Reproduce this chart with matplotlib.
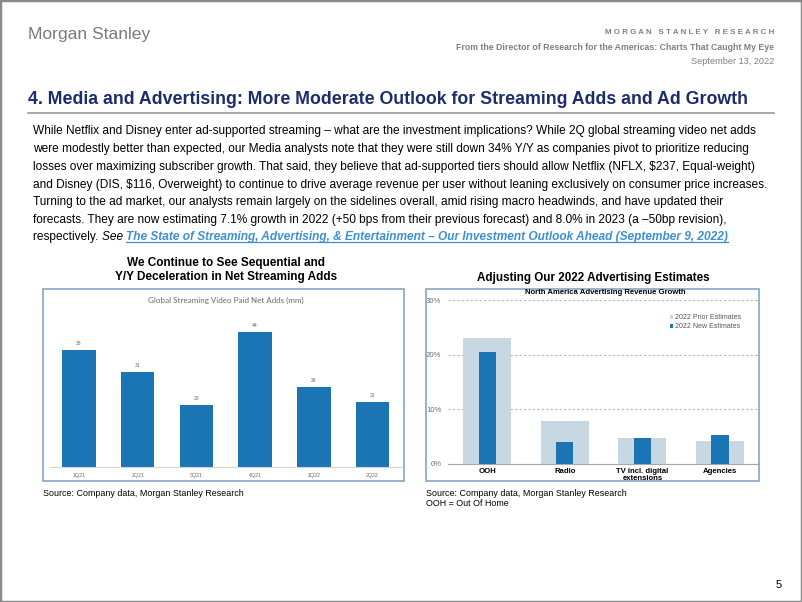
import matplotlib
matplotlib.use("Agg")
import matplotlib.pyplot as plt
from matplotlib.patches import Rectangle
from matplotlib.lines import Line2D

# ---- data ----
quarters = ['1Q21', '2Q21', '3Q21', '4Q21', '1Q22', '2Q22']
net_adds = [38, 31, 20, 44, 26, 21]

ad_categories = ['OOH', 'Radio', 'TV incl. digital\nextensions', 'Agencies']
prior_est = [23.0, 7.9, 4.8, 4.1]
new_est = [20.5, 3.9, 4.7, 5.2]
pct_ticks = [0, 10, 20, 30]

para_lines = [
    "While Netflix and Disney enter ad-supported streaming \u2013 what are the investment implications? While 2Q global streaming video net adds",
    "were modestly better than expected, our Media analysts note that they were still down 34% Y/Y as companies pivot to prioritize reducing",
    "losses over maximizing subscriber growth. That said, they believe that ad-supported tiers should allow Netflix (NFLX, $237, Equal-weight)",
    "and Disney (DIS, $116, Overweight) to continue to drive average revenue per user without leaning exclusively on consumer price increases.",
    "Turning to the ad market, our analysts remain largely on the sidelines overall, amid rising macro headwinds, and have updated their",
    "forecasts. They are now estimating 7.1% growth in 2022 (+50 bps from their previous forecast) and 8.0% in 2023 (a \u201350bp revision),",
]
last_plain = "respectively. "
last_see = "See "
link_text = ("The State of Streaming, Advertising, & Entertainment \u2013 "
             "Our Investment Outlook Ahead (September 9, 2022)")

BLUE = '#1b75b4'
LIGHT = '#c8d8e3'
NAVY = '#1c2c6c'
BOX = '#8eaccc'
PARA_FS = 8.55

plt.rcParams['font.family'] = ['Liberation Sans', 'DejaVu Sans']

W, H = 802, 602
fig = plt.figure(figsize=(W / 100, H / 100), dpi=100)


def fx(x):
    return x / W


def fy(y):
    return 1 - y / H


def rect(x0, y0, x1, y1):
    return [fx(x0), fy(y1), (x1 - x0) / W, (y1 - y0) / H]


# slide frame
fig.patches.append(Rectangle((0, 0), 1, 1, transform=fig.transFigure,
                             fill=False, ec='#8a8a8a', lw=2.5))

# header
fig.text(fx(28), fy(34), 'Morgan Stanley', fontsize=12.6, color='#7a7a7a',
         va='center', ha='left')
fig.text(fx(774), fy(32), 'M O R G A N   S T A N L E Y   R E S E A R C H',
         fontsize=5.7, color='#808080', fontweight='bold', va='center', ha='right')
fig.text(fx(774), fy(47),
         'From the Director of Research for the Americas: Charts That Caught My Eye',
         fontsize=6.35, color='#808080', fontweight='bold', va='center', ha='right')
fig.text(fx(774), fy(61), 'September 13, 2022', fontsize=6.6, color='#808080',
         va='center', ha='right')

fig.text(fx(28), fy(100),
         '4. Media and Advertising: More Moderate Outlook for Streaming Adds and Ad Growth',
         fontsize=12.8, color=NAVY, fontweight='bold', va='center', ha='left')
fig.add_artist(Line2D([fx(28), fx(774)], [fy(113), fy(113)], color='#9a9a9a', lw=1.2))

# paragraph
line_y = [134, 152, 170, 188, 205, 223, 240]
for txt, y in zip(para_lines, line_y):
    fig.text(fx(33), fy(y), txt, fontsize=PARA_FS, color='black', va='baseline', ha='left')

renderer = fig.canvas.get_renderer()
t1 = fig.text(fx(33), fy(line_y[6]), last_plain, fontsize=PARA_FS, va='baseline', ha='left')
x_next = t1.get_window_extent(renderer).x1
t2 = fig.text(x_next / W, fy(line_y[6]), last_see, fontsize=PARA_FS, style='italic',
              va='baseline', ha='left')
x_next = t2.get_window_extent(renderer).x1
t3 = fig.text(x_next / W, fy(line_y[6]), link_text, fontsize=PARA_FS, style='italic',
              fontweight='bold', color='#3d8fd1', va='baseline', ha='left')
bb = t3.get_window_extent(renderer)
fig.add_artist(Line2D([bb.x0 / W, bb.x1 / W], [fy(line_y[6] + 2), fy(line_y[6] + 2)],
                      color='#3d8fd1', lw=0.9))

# ---- left chart ----
fig.text(fx(226), fy(263), 'We Continue to See Sequential and', fontsize=8.5,
         fontweight='bold', ha='center', va='center')
fig.text(fx(226), fy(277), 'Y/Y Deceleration in Net Streaming Adds', fontsize=8.5,
         fontweight='bold', ha='center', va='center')
fig.patches.append(Rectangle((fx(43), fy(481)), (404 - 43) / W, (481 - 289) / H,
                             transform=fig.transFigure, fill=False, ec=BOX, lw=1.3))
fig.text(fx(226), fy(300), 'Global Streaming Video Paid Net Adds (mm)', fontsize=5.8,
         color='#6a6a6a', family=['Lato', 'DejaVu Sans'], ha='center', va='center')

ax1 = fig.add_axes(rect(49.65, 305, 401.85, 466.7))
x1 = range(len(quarters))
ax1.bar(x1, net_adds, width=0.57, color=BLUE)
for i, v in zip(x1, net_adds):
    ax1.annotate(str(v), (i, v), xytext=(0, 4.6), textcoords='offset points',
                 ha='center', va='center', fontsize=3.6, color='#666666')
ax1.set_xlim(-0.5, len(quarters) - 0.5)
ax1.set_ylim(0, 52.7)
ax1.set_xticks(list(x1))
ax1.set_xticklabels(quarters, fontsize=3.8, color='#666666')
ax1.tick_params(axis='x', length=0, pad=4.5)
ax1.set_yticks([])
for s in ['top', 'left', 'right']:
    ax1.spines[s].set_visible(False)
ax1.spines['bottom'].set_color('#d4d4d4')
ax1.patch.set_visible(False)

fig.text(fx(43), fy(493), 'Source: Company data, Morgan Stanley Research', fontsize=6.4,
         ha='left', va='center')

# ---- right chart ----
fig.text(fx(593), fy(278), 'Adjusting Our 2022 Advertising Estimates', fontsize=8.4,
         fontweight='bold', ha='center', va='center')
fig.patches.append(Rectangle((fx(426), fy(481)), (759 - 426) / W, (481 - 289) / H,
                             transform=fig.transFigure, fill=False, ec=BOX, lw=1.3))
fig.text(fx(605), fy(292.5), 'North America Advertising Revenue Growth', fontsize=5.6,
         fontweight='bold', ha='center', va='center')

ax2 = fig.add_axes(rect(448.3, 292, 758.8, 463.7))
x2 = range(len(ad_categories))
ax2.bar(x2, prior_est, width=0.62, color=LIGHT, label='2022 Prior Estimates', zorder=2)
ax2.bar(x2, new_est, width=0.22, color=BLUE, label='2022 New Estimates', zorder=3)
ax2.set_xlim(-0.5, len(ad_categories) - 0.5)
ax2.set_ylim(0, 31.5)
ax2.set_yticks(pct_ticks)
ax2.set_yticklabels(['{}%'.format(t) for t in pct_ticks], fontsize=5.6, color='#707070')
ax2.set_xticks(list(x2))
ax2.set_xticklabels(ad_categories, fontsize=5.6, fontweight='bold', linespacing=1.1)
ax2.tick_params(axis='both', length=0)
ax2.tick_params(axis='y', pad=5)
ax2.tick_params(axis='x', pad=3)
ax2.yaxis.grid(True, color='#b5b5b5', linestyle=(0, (2, 2)), lw=0.8, zorder=1)
for s in ['top', 'left', 'right']:
    ax2.spines[s].set_visible(False)
ax2.spines['bottom'].set_color('#a8a8a8')
ax2.spines['bottom'].set_zorder(4)
ax2.patch.set_visible(False)
ax2.legend(loc='upper right', bbox_to_anchor=(fx(745), fy(311)),
           bbox_transform=fig.transFigure, fontsize=5, frameon=False,
           handlelength=0.5, handleheight=0.5, handletextpad=0.3,
           labelspacing=0.25, borderpad=0, labelcolor='#555555')

fig.text(fx(426), fy(493), 'Source: Company data, Morgan Stanley Research', fontsize=6.4,
         ha='left', va='center')
fig.text(fx(426), fy(503), 'OOH = Out Of Home', fontsize=6.4, ha='left', va='center')

fig.text(fx(779), fy(585), '5', fontsize=8, ha='center', va='center')

fig.savefig('out.png', dpi=100)
